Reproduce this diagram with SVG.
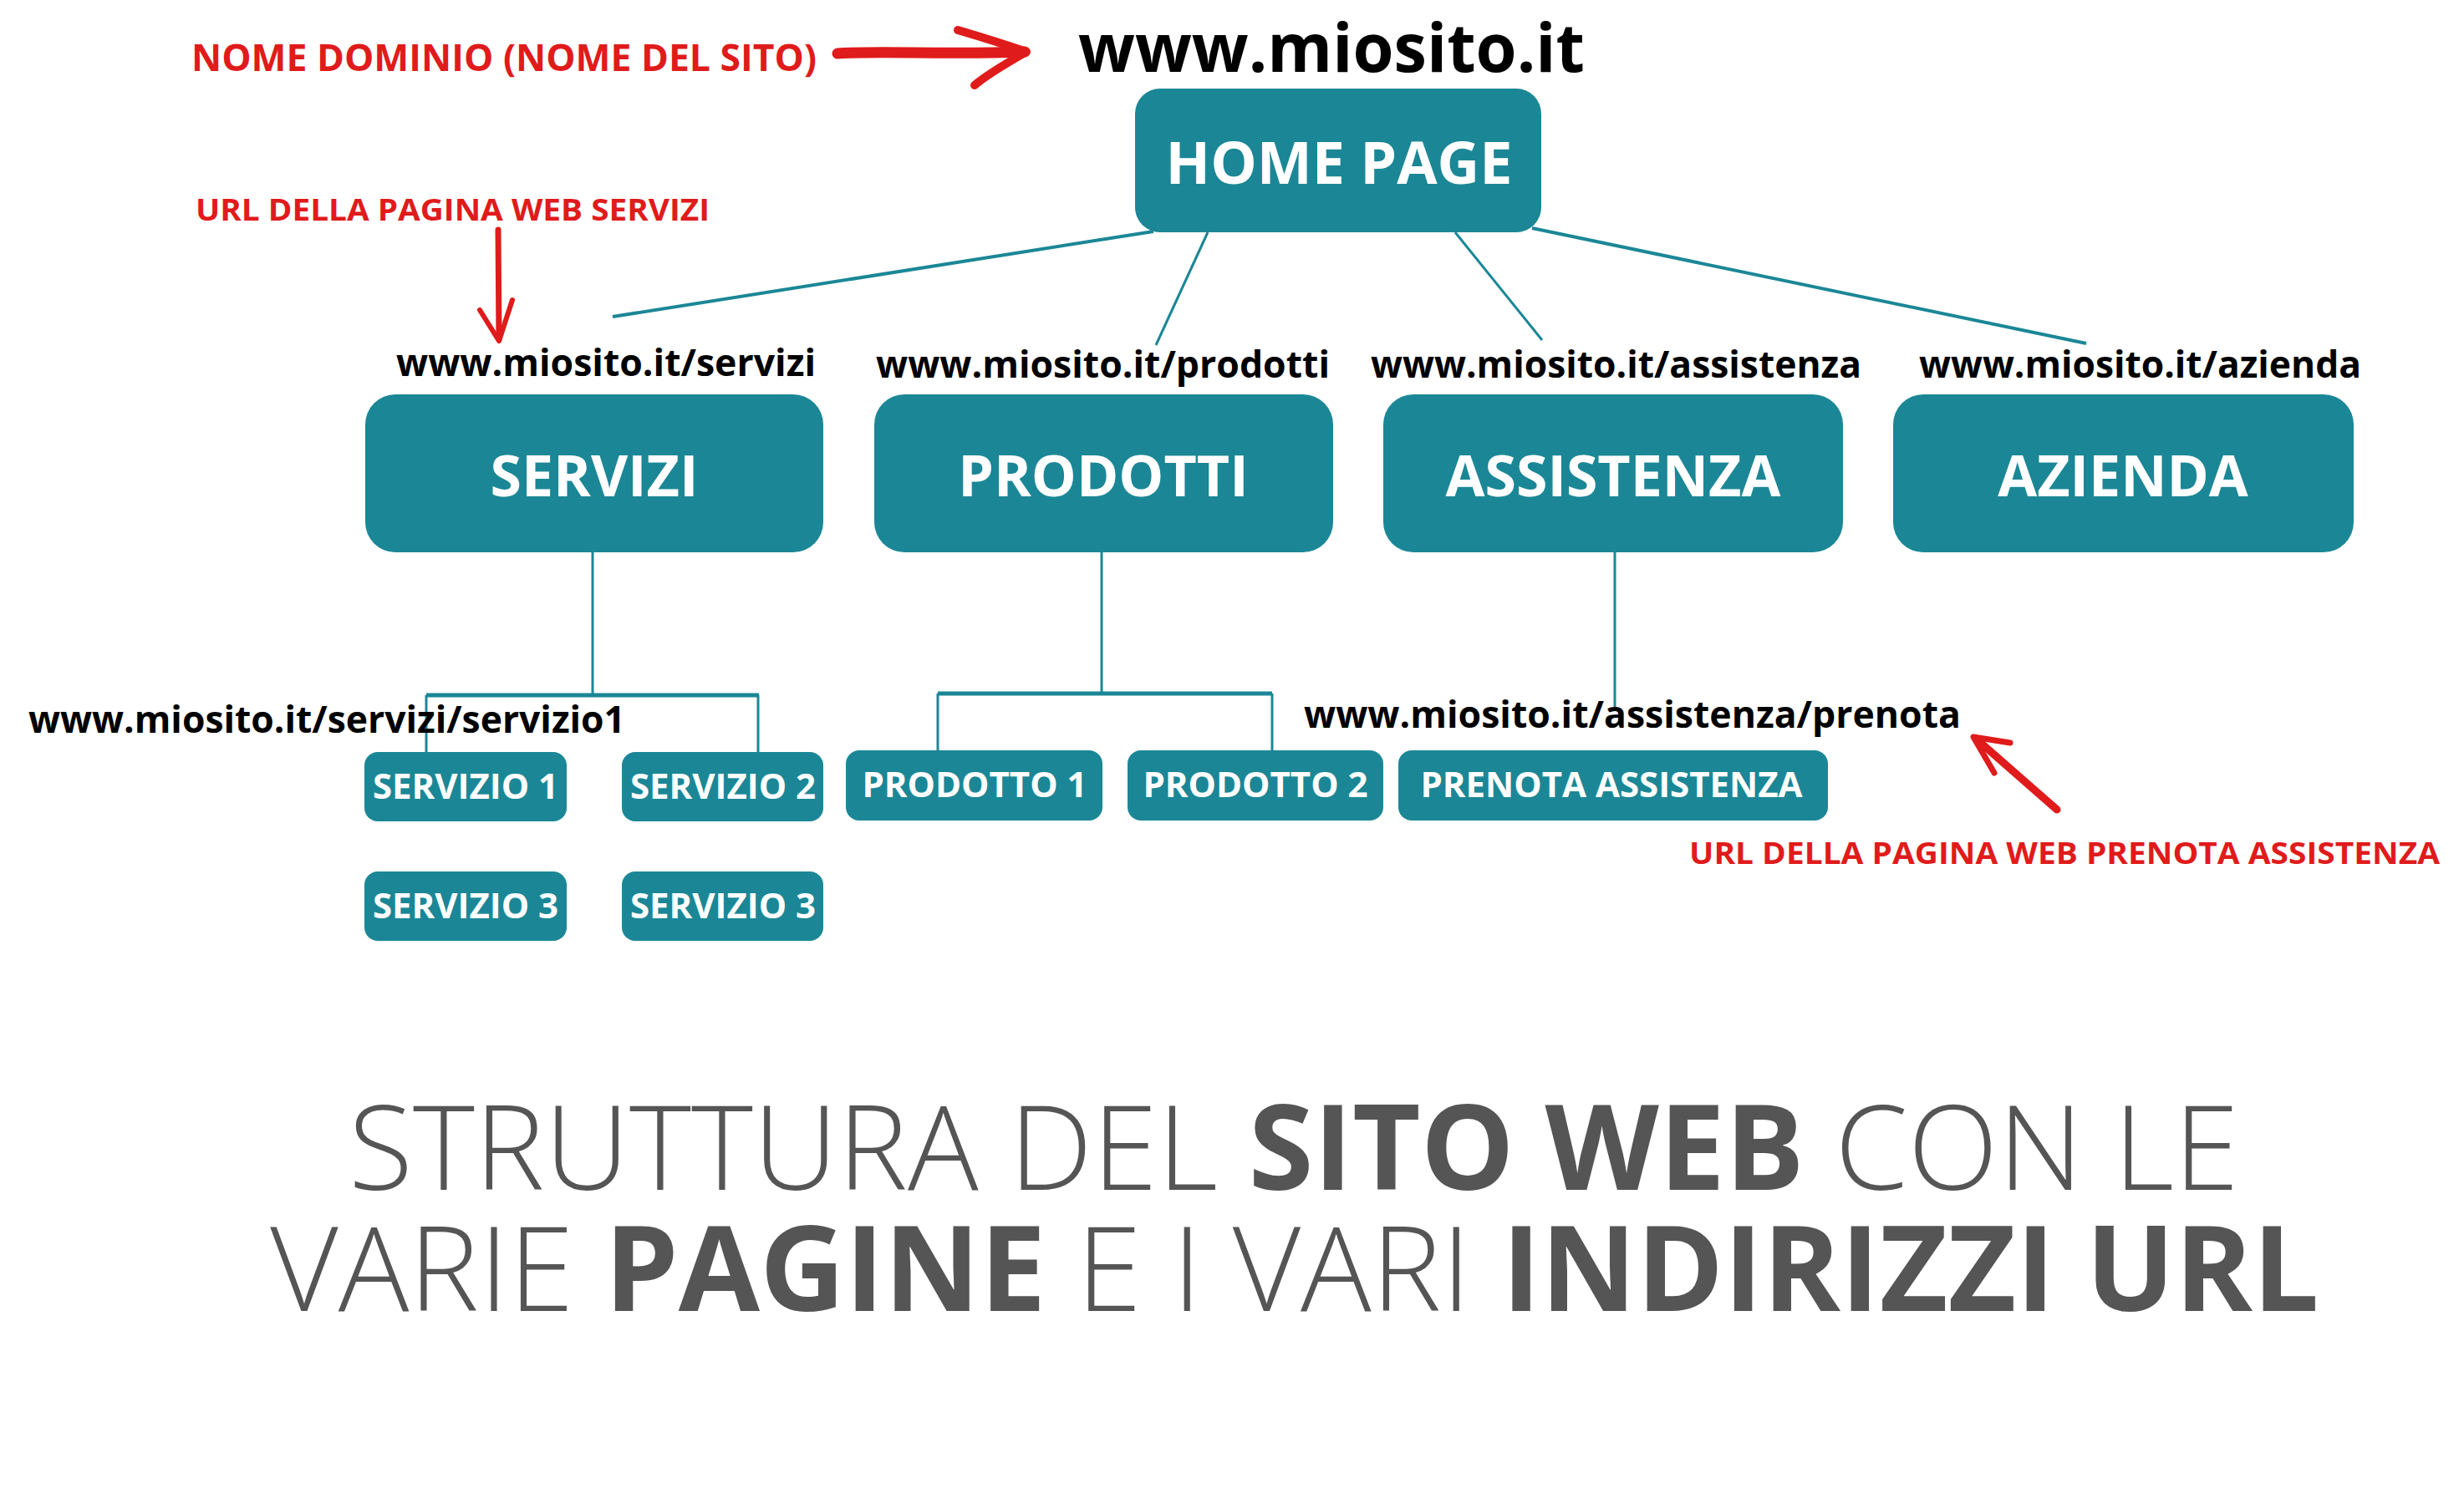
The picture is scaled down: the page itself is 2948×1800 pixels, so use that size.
<svg xmlns="http://www.w3.org/2000/svg" width="2948" height="1800" viewBox="0 0 2948 1800">
<style>
.box{fill:#1b8796}
.bl{font-family:"Open Sans","Liberation Sans",sans-serif;font-weight:700;fill:#fff;text-anchor:middle}
.sm{font-size:42px}
.url{font-family:"Open Sans","Liberation Sans",sans-serif;font-weight:700;fill:#000;font-size:44px}
.red{font-family:"Open Sans","Liberation Sans",sans-serif;font-weight:700;fill:#e01b1b}
.conn{stroke:#1b8796;fill:none}
.rarrow{stroke:#e01b1b;fill:none;stroke-linecap:round;stroke-linejoin:round}
.title{font-family:"Open Sans","Liberation Sans",sans-serif;fill:#555;font-size:141px;text-anchor:middle}
</style>
<rect width="2948" height="1800" fill="#fff"/>

<g id="connectors">
<line class="conn" stroke-width="4" x1="1380" y1="277" x2="733" y2="379"/>
<line class="conn" stroke-width="3" x1="1445" y1="278" x2="1383" y2="413"/>
<line class="conn" stroke-width="3" x1="1741" y1="278" x2="1845" y2="407"/>
<line class="conn" stroke-width="4" x1="1833" y1="273" x2="2496" y2="411"/>
<line class="conn" stroke-width="3" x1="709" y1="661" x2="709" y2="832"/>
<line class="conn" stroke-width="5" x1="510" y1="832" x2="908" y2="832"/>
<line class="conn" stroke-width="3" x1="510" y1="832" x2="510" y2="900"/>
<line class="conn" stroke-width="3" x1="907" y1="832" x2="907" y2="900"/>
<line class="conn" stroke-width="3" x1="1318" y1="661" x2="1318" y2="832"/>
<line class="conn" stroke-width="5" x1="1122" y1="830" x2="1522" y2="830"/>
<line class="conn" stroke-width="3" x1="1122" y1="830" x2="1122" y2="898"/>
<line class="conn" stroke-width="3" x1="1522" y1="830" x2="1522" y2="898"/>
<line class="conn" stroke-width="3" x1="1932" y1="661" x2="1932" y2="846"/>
</g>

<g id="annotations">
<text class="red" x="229" y="85" font-size="44" textLength="748" lengthAdjust="spacingAndGlyphs">NOME DOMINIO (NOME DEL SITO)</text>
<path class="rarrow" stroke-width="13" d="M1002,64 C1060,60 1120,66 1226,62"/>
<path class="rarrow" stroke-width="10" d="M1146,36 C1180,46 1205,54 1228,62 C1200,78 1180,90 1166,102"/>
<text class="red" x="234" y="264" font-size="36" textLength="615" lengthAdjust="spacingAndGlyphs">URL DELLA PAGINA WEB SERVIZI</text>
<path class="rarrow" stroke-width="7" d="M596,275 L597,406"/>
<path class="rarrow" stroke-width="6" d="M574,371 L597,408 L613,359"/>
<text class="red" x="2021" y="1034" font-size="36" textLength="898" lengthAdjust="spacingAndGlyphs">URL DELLA PAGINA WEB PRENOTA ASSISTENZA</text>
<path class="rarrow" stroke-width="9" d="M2461,969 L2364,884"/>
<path class="rarrow" stroke-width="7" d="M2405,889 L2361,882 L2386,925"/>
</g>

<g id="domain">
<text x="1290" y="86" font-family="Open Sans, Liberation Sans, sans-serif" font-weight="700" font-size="80" fill="#000" textLength="606" lengthAdjust="spacingAndGlyphs">www.miosito.it</text>
</g>

<g id="home">
<rect class="box" x="1358" y="106" width="486" height="172" rx="30"/>
<text class="bl" x="1602" y="220" font-size="70">HOME PAGE</text>
</g>

<g id="urls">
<text class="url" x="474" y="450" textLength="502" lengthAdjust="spacingAndGlyphs">www.miosito.it/servizi</text>
<text class="url" x="1048" y="452" textLength="543" lengthAdjust="spacingAndGlyphs">www.miosito.it/prodotti</text>
<text class="url" x="1640" y="452" textLength="587" lengthAdjust="spacingAndGlyphs">www.miosito.it/assistenza</text>
<text class="url" x="2296" y="452" textLength="529" lengthAdjust="spacingAndGlyphs">www.miosito.it/azienda</text>
<text class="url" x="34" y="877" textLength="714" lengthAdjust="spacingAndGlyphs">www.miosito.it/servizi/servizio1</text>
<text class="url" x="1560" y="871" textLength="786" lengthAdjust="spacingAndGlyphs">www.miosito.it/assistenza/prenota</text>
</g>

<g id="servizi">
<rect class="box" x="437" y="472" width="548" height="189" rx="36"/>
<text class="bl" x="711" y="594" font-size="68">SERVIZI</text>
</g>
<g id="prodotti">
<rect class="box" x="1046" y="472" width="549" height="189" rx="36"/>
<text class="bl" x="1320" y="594" font-size="68">PRODOTTI</text>
</g>
<g id="assistenza">
<rect class="box" x="1655" y="472" width="550" height="189" rx="36"/>
<text class="bl" x="1930" y="594" font-size="68">ASSISTENZA</text>
</g>
<g id="azienda">
<rect class="box" x="2265" y="472" width="551" height="189" rx="36"/>
<text class="bl" x="2540" y="594" font-size="68">AZIENDA</text>
</g>

<g id="servizio1">
<rect class="box" x="436" y="900" width="242" height="83" rx="16"/>
<text class="bl sm" x="557" y="956">SERVIZIO 1</text>
</g>
<g id="servizio2">
<rect class="box" x="744" y="900" width="241" height="83" rx="16"/>
<text class="bl sm" x="865" y="956">SERVIZIO 2</text>
</g>
<g id="servizio3a">
<rect class="box" x="436" y="1043" width="242" height="83" rx="16"/>
<text class="bl sm" x="557" y="1099">SERVIZIO 3</text>
</g>
<g id="servizio3b">
<rect class="box" x="744" y="1043" width="241" height="83" rx="16"/>
<text class="bl sm" x="865" y="1099">SERVIZIO 3</text>
</g>
<g id="prodotto1">
<rect class="box" x="1012" y="898" width="307" height="84" rx="16"/>
<text class="bl sm" x="1166" y="954">PRODOTTO 1</text>
</g>
<g id="prodotto2">
<rect class="box" x="1349" y="898" width="306" height="84" rx="16"/>
<text class="bl sm" x="1502" y="954">PRODOTTO 2</text>
</g>
<g id="prenota">
<rect class="box" x="1673" y="898" width="514" height="84" rx="16"/>
<text class="bl sm" x="1928" y="954">PRENOTA ASSISTENZA</text>
</g>

<g id="title">
<text class="title" x="1548" y="1424"><tspan font-weight="300">STRUTTURA DEL </tspan><tspan font-weight="700">SITO WEB</tspan><tspan font-weight="300"> CON LE</tspan></text>
<text class="title" x="1549" y="1569"><tspan font-weight="300">VARIE </tspan><tspan font-weight="700">PAGINE</tspan><tspan font-weight="300"> E I VARI </tspan><tspan font-weight="700">INDIRIZZI URL</tspan></text>
</g>
</svg>
